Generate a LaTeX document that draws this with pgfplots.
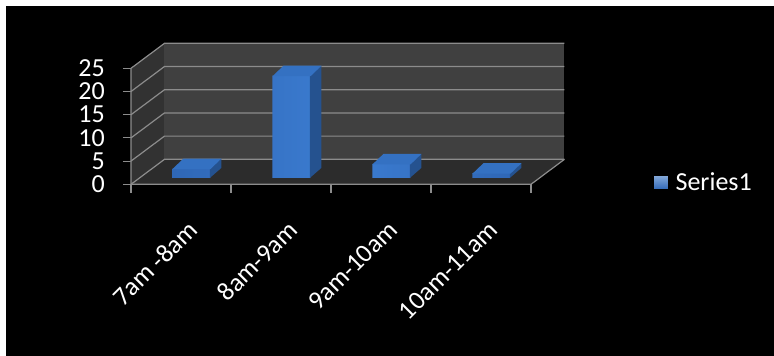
\documentclass[border=0pt]{standalone}
\usepackage{pgfplots}
\usepackage{pgfplotstable}
\pgfplotsset{compat=1.18}
\usepackage{fontspec}
\setmainfont{Carlito}

\definecolor{wallback}{HTML}{404040}
\definecolor{wallside}{HTML}{323232}
\definecolor{floorc}{HTML}{2C2C2C}
\definecolor{gridc}{HTML}{8C8C8C}
\definecolor{barfront}{HTML}{3C7DD2}
\definecolor{baredge}{HTML}{2F67B6}
\definecolor{bartop}{HTML}{3471C2}
\definecolor{barside}{HTML}{25528F}

% counts per time slot (x = category centre)
\pgfplotstableread{
x   v
0.5 2
1.5 22
2.5 3
3.5 1
}\slots

% top and right faces of a column; origin = top centre of the front face
\pgfdeclareplotmark{colfaces}{%
  \pgfmathsetlengthmacro\colh{\rawy*4.64bp}%
  \pgfsetfillcolor{barside}%
  \pgfpathmoveto{\pgfpoint{18.5bp}{0pt}}%
  \pgfpathlineto{\pgfpoint{30bp}{10bp}}%
  \pgfpathlineto{\pgfpoint{30bp}{10bp-\colh}}%
  \pgfpathlineto{\pgfpoint{18.5bp}{-\colh}}%
  \pgfpathclose
  \pgfusepath{fill}%
  \pgfsetfillcolor{bartop}%
  \pgfpathmoveto{\pgfpoint{-19bp}{-0.5bp}}%
  \pgfpathlineto{\pgfpoint{19bp}{-0.5bp}}%
  \pgfpathlineto{\pgfpoint{30bp}{10bp}}%
  \pgfpathlineto{\pgfpoint{-8bp}{10bp}}%
  \pgfpathclose
  \pgfusepath{fill}%
}

\begin{document}
\begin{tikzpicture}
\path[use as bounding box] (-131bp,-171.7bp) rectangle (643bp,184.3bp);
\fill[white] (-131bp,-171.7bp) rectangle (643bp,184.3bp);
\fill[black] (-125bp,-171.7bp) rectangle (643bp,178.3bp);
\begin{axis}[
  scale only axis, width=400bp, height=116bp,
  xmin=0, xmax=4, ymin=0, ymax=25,
  clip=false,
  axis line style={draw=none},
  xtick={0.5,1.5,2.5,3.5},
  xticklabels={7am -8am, 8am-9am, 9am-10am, 10am-11am},
  xtick style={draw=none},
  ytick={0,5,...,25},
  xtick pos=bottom, ytick pos=left,
  tick align=outside, major tick length=8bp,
  ytick style={gridc, line width=1bp},
  /pgf/number format/assume math mode=true,
  ticklabel style={font=\fontsize{26bp}{30bp}\selectfont, text=white, inner sep=0pt},
  yticklabel style={anchor=east, xshift=-18bp},
  xticklabel style={xshift=12bp, yshift=-33bp, rotate=45, anchor=east},
  legend style={at={(axis cs:5.22,0.39)}, anchor=west, draw=none, fill=none,
    text=white, font=\fontsize{26bp}{30bp}\selectfont, inner sep=0pt,
    nodes={inner sep=0pt}, column sep=7bp},
]
% walls and floor
\fill[wallside] (axis cs:0,0) -- (axis cs:0,25)
  -- ([shift={(33.5bp,25bp)}]axis cs:0,25) -- ([shift={(33.5bp,25bp)}]axis cs:0,0) -- cycle;
\fill[wallback] ([shift={(33.5bp,25bp)}]axis cs:0,0) rectangle ([shift={(33.5bp,25bp)}]axis cs:4,25);
\fill[floorc] (axis cs:0,0) -- (axis cs:4,0)
  -- ([shift={(33.5bp,25bp)}]axis cs:4,0) -- ([shift={(33.5bp,25bp)}]axis cs:0,0) -- cycle;
% gridlines on the side and back walls
\pgfplotsinvokeforeach{0,5,...,25}{
  \draw[gridc, line width=1.2bp] (axis cs:0,#1) -- ([shift={(33.5bp,25bp)}]axis cs:0,#1)
    -- ([shift={(33.5bp,25bp)}]axis cs:4,#1);
}
% front edges of the floor and the value axis
\draw[gridc, line width=1.2bp] (axis cs:0,25) -- (axis cs:0,0) -- (axis cs:4,0)
  -- ([shift={(33.5bp,25bp)}]axis cs:4,0);
\pgfplotsinvokeforeach{0,...,4}{
  \draw[gridc, line width=1.2bp] (axis cs:#1,0) -- ++(0,-8.5bp);
}
% columns: top and side faces, then the front faces
\addplot[only marks, mark=colfaces, xshift=10.5bp, yshift=6.5bp,
  visualization depends on=rawy\as\rawy, forget plot]
  table[x=x, y=v] {\slots};
\addplot[ybar, bar width=0.38, draw=none, xshift=10.5bp, yshift=6.5bp,
  left color=baredge, right color=baredge, middle color=barfront, forget plot]
  table[x=x, y=v] {\slots};
\addlegendimage{legend image code/.code={
  \shade[top color=bartop!60!white, bottom color=baredge] (0bp,-7bp) rectangle (15bp,7bp);}}
\addlegendentry{Series1}
\end{axis}
\end{tikzpicture}
\end{document}
